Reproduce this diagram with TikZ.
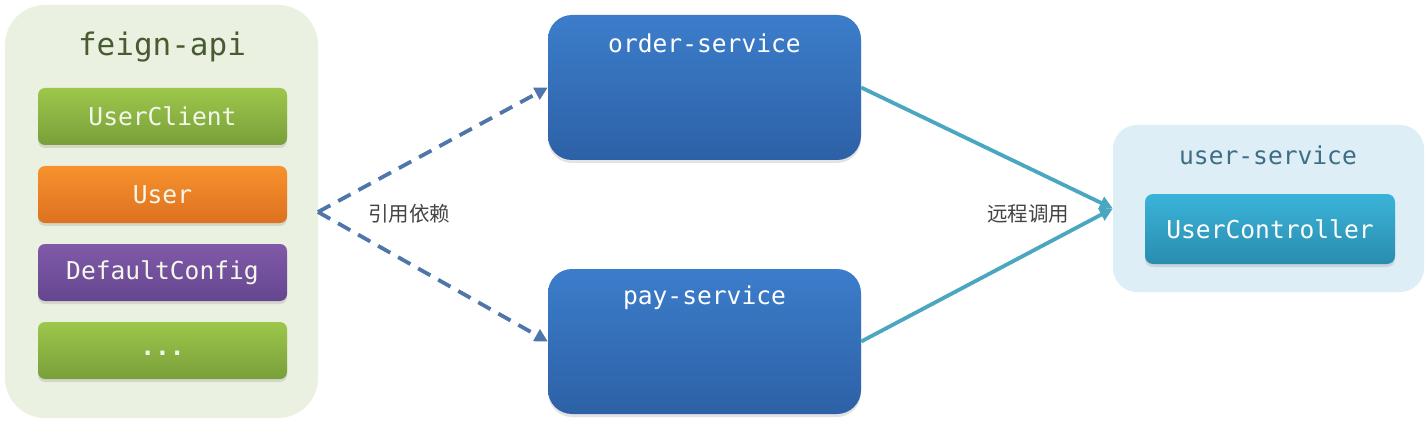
\documentclass[tikz,border=0pt]{standalone}
\usepackage{fontspec}
\setmonofont{DejaVu Sans Mono}
\newfontfamily\cjk{Noto Sans CJK SC}
\usetikzlibrary{arrows.meta,shadows}
\definecolor{feignbg}{HTML}{EBF1E1}
\definecolor{feigntitle}{HTML}{4A5B33}
\definecolor{grtop}{HTML}{9DC74B}
\definecolor{grbot}{HTML}{789F3A}
\definecolor{ortop}{HTML}{F7922E}
\definecolor{orbot}{HTML}{DD711F}
\definecolor{putop}{HTML}{7F5AA8}
\definecolor{pubot}{HTML}{664690}
\definecolor{bltop}{HTML}{3C7DCB}
\definecolor{blbot}{HTML}{2D61A6}
\definecolor{usbg}{HTML}{DDEEF6}
\definecolor{ustitle}{HTML}{3D6E84}
\definecolor{cttop}{HTML}{3AB4D9}
\definecolor{ctbot}{HTML}{2A8CAE}
\definecolor{dashcol}{HTML}{4F76AA}
\definecolor{tealcol}{HTML}{4AA7BF}
\definecolor{labcol}{HTML}{444444}
\definecolor{boxtext}{HTML}{F4F8EC}
\tikzset{
  container/.style={rectangle, rounded corners=#1, inner sep=0pt},
  item/.style={rectangle, rounded corners=7pt, minimum width=249pt, minimum height=57pt,
    inner sep=0pt, text=boxtext, font=\ttfamily\fontsize{24.6}{28}\selectfont,
    drop shadow={shadow xshift=0pt, shadow yshift=-3pt, opacity=0.22}},
  svc/.style={rectangle, rounded corners=24pt, minimum width=313pt, minimum height=145pt,
    inner sep=0pt, top color=bltop, bottom color=blbot,
    drop shadow={shadow xshift=0pt, shadow yshift=-3pt, opacity=0.22}},
  svctitle/.style={text=white, font=\ttfamily\fontsize{24.6}{28}\selectfont, inner sep=0pt},
  deparrow/.style={draw=dashcol, line width=3.8pt, dash pattern=on 14pt off 9pt,
    -{Triangle[length=13pt,width=13pt]}},
  callarrow/.style={draw=tealcol, line width=3.8pt, -{Triangle[length=13pt,width=13pt]}},
  cnlabel/.style={text=labcol, font=\cjk\fontsize{20.5}{23}\selectfont, inner sep=0pt}
}
\begin{document}
\begin{tikzpicture}[x=1pt,y=-1pt]
\useasboundingbox[fill=white] (0,0) rectangle (1427,441);
% feign-api container
\node[container=40pt, fill=feignbg, minimum width=313pt, minimum height=413pt] (feign) at (161.5,211.5) {};
\node[text=feigntitle, font=\ttfamily\fontsize{31}{34}\selectfont, inner sep=0pt] (feigntitle) at (162,47) {feign-api};
\node[item, top color=grtop, bottom color=grbot] (client) at (162.5,116.5) {UserClient};
\node[item, top color=ortop, bottom color=orbot] (user) at (162.5,194.5) {User};
\node[item, top color=putop, bottom color=pubot] (config) at (162.5,272.5) {DefaultConfig};
\node[item, top color=grtop, bottom color=grbot] (more) at (162.5,350.5) {\smash{\raisebox{-5pt}{\bfseries...}}};
% services
\node[svc] (order) at (704.5,87.5) {};
\node[svctitle] (ordertitle) at (704.5,43) {order-service};
\node[svc] (pay) at (704.5,341.5) {};
\node[svctitle] (paytitle) at (704.5,298) {pay-service};
% user-service
\node[container=24pt, fill=usbg, minimum width=311pt, minimum height=167pt] (usersvc) at (1268.5,208.5) {};
\node[text=ustitle, font=\ttfamily\fontsize{24.6}{28}\selectfont, inner sep=0pt] (ustitle) at (1268,155) {user-service};
\node[rectangle, rounded corners=8pt, minimum width=250pt, minimum height=70pt, inner sep=0pt,
  top color=cttop, bottom color=ctbot, text=white, font=\ttfamily\fontsize{24.6}{28}\selectfont,
  drop shadow={shadow xshift=0pt, shadow yshift=-3pt, opacity=0.22}] (ctrl) at (1270,229) {UserController};
% arrows
\coordinate (apex) at (318,212);
\draw[deparrow] (apex) -- (order.west);
\draw[deparrow] (apex) -- (pay.west);
\node[cnlabel] (deplabel) at (409,214) {引用依赖};
\draw[callarrow] (order.east) -- (usersvc.west);
\draw[callarrow] (pay.east) -- (usersvc.west);
\node[cnlabel] (calllabel) at (1028,214) {远程调用};
\end{tikzpicture}
\end{document}
